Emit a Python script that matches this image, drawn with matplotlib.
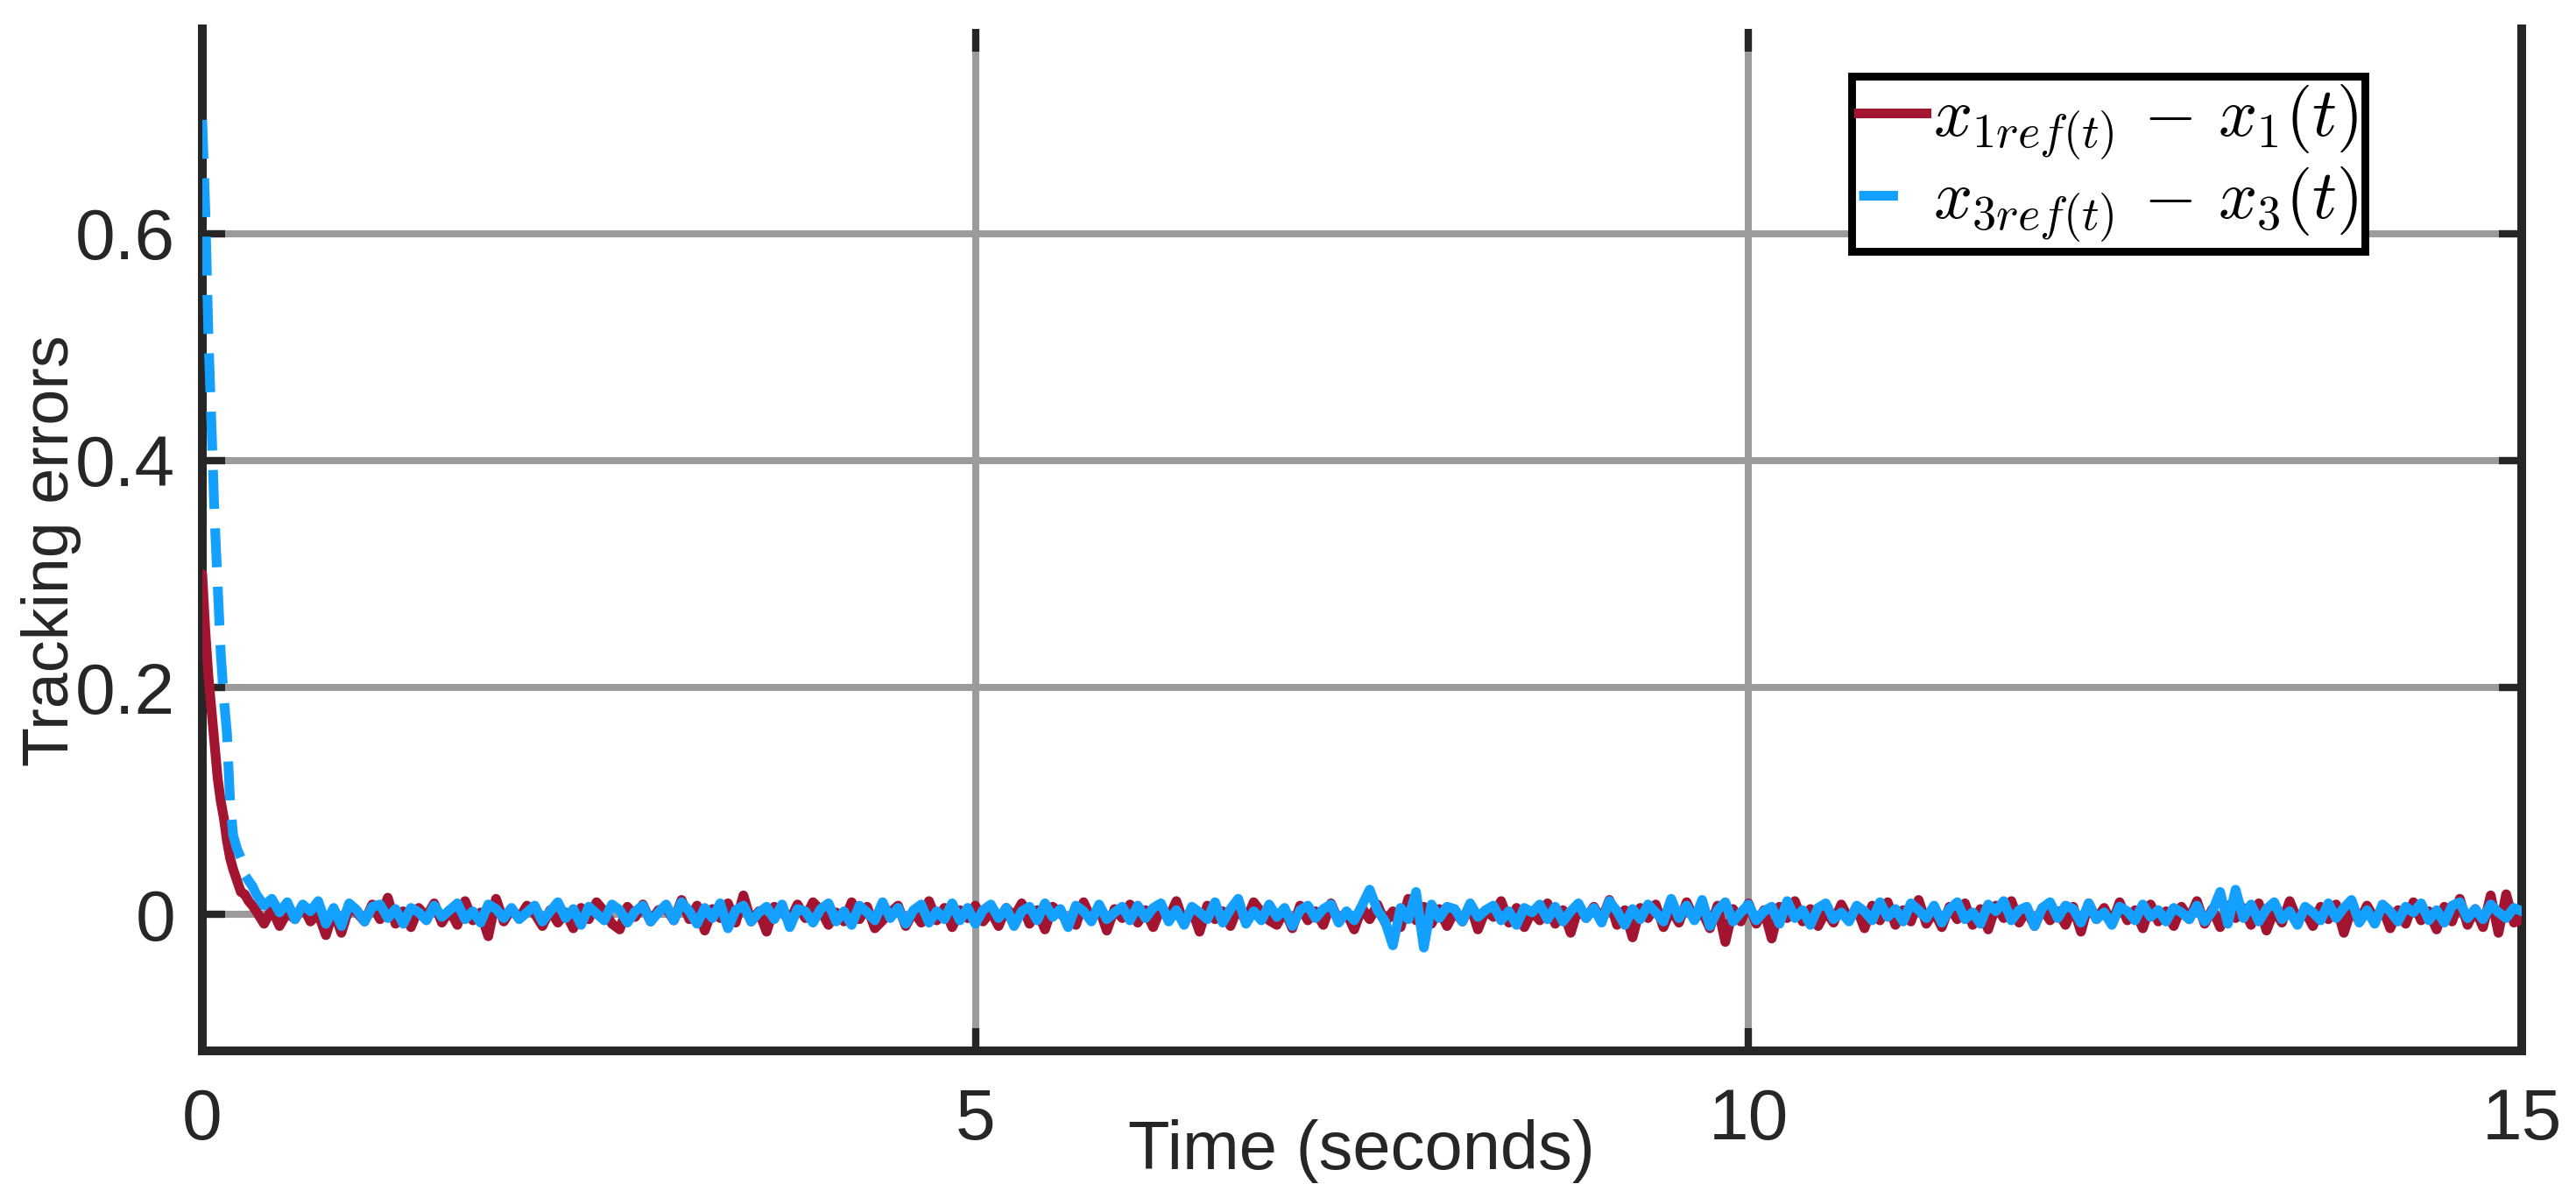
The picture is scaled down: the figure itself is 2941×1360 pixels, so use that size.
import numpy as np
import matplotlib
matplotlib.use("Agg")
import matplotlib.pyplot as plt
from matplotlib.lines import Line2D

plt.rcParams['font.family'] = ['Liberation Sans', 'DejaVu Sans']
plt.rcParams['mathtext.fontset'] = 'cm'

# %% data
# transient part (seconds, value)
t_start_1 = [0.0, 0.02, 0.04, 0.06, 0.08, 0.10, 0.12, 0.14, 0.16, 0.18, 0.20, 0.225, 0.25, 0.275, 0.30, 0.325]
e1_start = [0.30, 0.25, 0.21, 0.18, 0.15, 0.12, 0.10, 0.085, 0.065, 0.05, 0.04, 0.03, 0.02, 0.018, 0.012, 0.008]
t_start_3 = [0.0, 0.02, 0.04, 0.06, 0.08, 0.10, 0.12, 0.14, 0.16, 0.18, 0.20, 0.225, 0.25, 0.275, 0.30, 0.325]
e3_start = [0.70, 0.62, 0.51, 0.43, 0.35, 0.29, 0.23, 0.19, 0.16, 0.10, 0.07, 0.058, 0.05, 0.035, 0.03, 0.025]

# steady part, one value every 0.05 s from 0.35 s to 15 s, in units of 1e-3
noise_1 = [
    3, -8, 5, -10, 2, -4, 8, -6, 1, -18, 4, -16, 6,
    2, -6, 9, -4, 15, -8, 3, -11, 6, -2, 10, -7, 4, -9, 12, -5, 2, -19, 14, -6,
    5, -3, 8, 1, -10, 4, -7, 2, -12, 6, -4, 11, 3, -8, -13, 7, -2, 9, -6, 4,
    6, -5, 13, -4, 8, -14, 5, -3, 10, -7, 17, -6, 3, -15, 7, 2, -5, 9, -3, 11,
    4, -9, 2, -6, 11, -4, 7, -12, -5, 2, 8, -10, 3, -7, 12, -5, 6, -11, 4, -3,
    8, -6, 3, -10, 6, -2, 10, -8, 4, -13, 7, 1, -5, -9, 11, -4, 6, -14, 5, -3,
    9, -7, 4, -11, 6, -3, 12, -8, 5, -15, 8, -4, 3, -10, 7, -6, 11, 2, -5, -9,
    4, -12, 8, -5, 3, -9, 10, -6, 2, -13, 6, -4, 9, -7, 3, -11, 14, -5, 7, -8,
    5, -10, 3, -6, 9, -13, 4, -2, 12, -7, 6, -11, 3, -5, 10, -8, 4, -16, 6, -3,
    7, -5, 13, -9, 4, -20, 6, -3, 9, -11, 5, -7, 11, -4, 3, -12, 8, -24, 5, -6,
    10, -8, 4, -21, 7, -3, 12, -6, 5, -10, 3, -7, 9, -4, 6, -12, 8, -5, 11, -9,
    4, -6, 13, -8, 3, -11, 7, -4, 10, -9, 5, -13, 8, -3, 12, -7, 4, -10, 6, -5,
    3, -9, 7, -15, 10, -4, 6, -8, 11, -5, 4, -12, 9, -6, 3, -10, 7, -4, 12, -8,
    5, -11, 8, -3, 6, -9, 10, -14, 4, -7, 12, -5, 3, -10, 7, -4, 9, -16, 5, -6,
    8, -4, 6, -12, 4, -8, 11, -5, 3, -13, 7, -6, 14, -9, 5, -11, 17, -16, 18, -7,
    -4]
noise_3 = [
    18, 8, 14, 2, 11, -4, 9, 3, 12, -8, 6, -10, 10,
    4, -6, 7, 9, -3, 5, -8, 6, 2, -5, 8, -2, 4, 10, -4, 3, -7, 9, 5, -3,
    6, -4, 2, 8, -6, 3, 11, -3, 5, -9, 7, 1, -5, 9, 4, -7, 3, 8, -6, 2,
    9, -5, 11, 3, -8, 6, -3, 10, -12, 4, 8, -6, 2, 7, -4, 9, -11, 5, 3, -7,
    5, 10, -6, 3, -9, 8, 2, -5, 11, -3, 6, -8, 4, 9, -7, 3, -4, 10, -5, 6,
    -8, 4, 9, -3, 6, -10, 3, 7, -5, 10, -2, 5, -11, 8, 3, -6, 9, -4, 2, 7,
    -5, 8, -3, 6, 10, -6, 4, -9, 7, 2, -4, 11, -7, 5, 14, -8, 3, -5, 9, -2,
    6, -10, 4, 8, -3, 5, 9, -7, 3, -5, 8, 22, 4, -6, -27, 6, -4, 20, -29, 9,
    -3, 7, 5, -6, 10, -2, 4, 8, -5, 3, -9, 6, 2, 9, -4, 7, -6, 3, 10, -3,
    6, -7, 12, 3, -9, 5, -4, 9, 2, -6, 14, -3, 8, -5, 13, -10, 4, 11, -6, 2,
    9, -5, 3, 7, -8, 12, -3, 4, -9, 6, 10, -4, 2, -6, 8, 3, -5, 11, -2, 5,
    -6, 10, 4, -3, 8, -7, 5, 11, -4, 2, -8, 9, 3, 12, -5, 4, 7, -10, 6, 11,
    -3, 8, 5, -7, 10, -4, 2, -9, 7, 3, -5, 9, -2, 4, -6, 6, 2, -4, 8, -6,
    3, 20, -8, 22, -3, 9, -6, 5, 11, -4, 3, -9, 7, 2, -5, 10, -3, 6, 13, -7,
    4, -8, 9, 3, -6, 7, 2, 10, -5, 4, -7, 8, 11, -3, 5, -4, 9, 2, -3, 6,
    3]

x_ticks = [0, 5, 10, 15]
x_ticklabels = ['0', '5', '10', '15']
y_ticks = [0, 0.2, 0.4, 0.6]
y_ticklabels = ['0', '0.2', '0.4', '0.6']
legend_labels = [r'$x_{1ref(t)}\,-\,x_1(t)$', r'$x_{3ref(t)}\,-\,x_3(t)$']

# %% build series
t_noise = np.round(np.arange(0.35, 15.0001, 0.05), 3)
t1 = np.concatenate([t_start_1, t_noise])
e1 = np.concatenate([e1_start, np.array(noise_1) / 1000])
t3 = np.concatenate([t_start_3, t_noise])
e3 = np.concatenate([e3_start, np.array(noise_3) / 1000])
n3 = len(t_start_3)

red = '#A2142F'
blue = '#14A0FF'
dark = '#262626'
lw = 4.0

fig = plt.figure(figsize=(2941 / 200, 1360 / 200), dpi=200)
ax = fig.add_axes([0.0785, 0.1176, 0.9004, 0.858])

ax.plot(t1, e1, color=red, lw=lw, solid_joinstyle='round', solid_capstyle='round', zorder=3)
# dashes only show on the steep start; on the dense noisy part the line reads as solid
ax.plot(t3[:n3], e3[:n3], color=blue, lw=lw, ls=(0, (4, 2)), zorder=4)
ax.plot(t3[n3 - 1:], e3[n3 - 1:], color=blue, lw=lw, solid_joinstyle='round',
        solid_capstyle='round', zorder=4)

ax.set_xlim(0, 15)
ax.set_ylim(-0.12, 0.78)
ax.set_xticks(x_ticks)
ax.set_xticklabels(x_ticklabels)
ax.set_yticks(y_ticks)
ax.set_yticklabels(y_ticklabels)

ax.grid(True, color='#9b9b9b', lw=2.9)
ax.set_axisbelow(True)
ax.tick_params(direction='in', length=9.5, width=3, color=dark, labelcolor=dark,
               labelsize=29.5, top=True, right=True)
ax.tick_params(axis='x', pad=15)
ax.tick_params(axis='y', pad=11)
for side in ['left', 'right', 'bottom']:
    ax.spines[side].set_linewidth(3.6)
    ax.spines[side].set_color(dark)
ax.spines['top'].set_visible(False)

ax.set_xlabel('Time (seconds)', fontsize=28, color=dark)
ax.xaxis.set_label_coords(0.5, -0.067)
ax.set_ylabel('Tracking errors', fontsize=26.5, color=dark)
ax.yaxis.set_label_coords(-0.052, 0.49)

handles = [Line2D([], [], color=red, lw=lw),
           Line2D([], [], color=blue, lw=lw, ls=(0, (4, 6)))]
leg = ax.legend(handles, legend_labels, loc='upper right', bbox_to_anchor=(0.9324, 0.9537),
                borderaxespad=0, fontsize=28, fancybox=False, framealpha=1,
                edgecolor='black', handlelength=1.0, handletextpad=0.1,
                borderpad=0.1, labelspacing=0.05)
leg.get_frame().set_linewidth(3.2)

fig.savefig('out.png', dpi=200, facecolor='white')
